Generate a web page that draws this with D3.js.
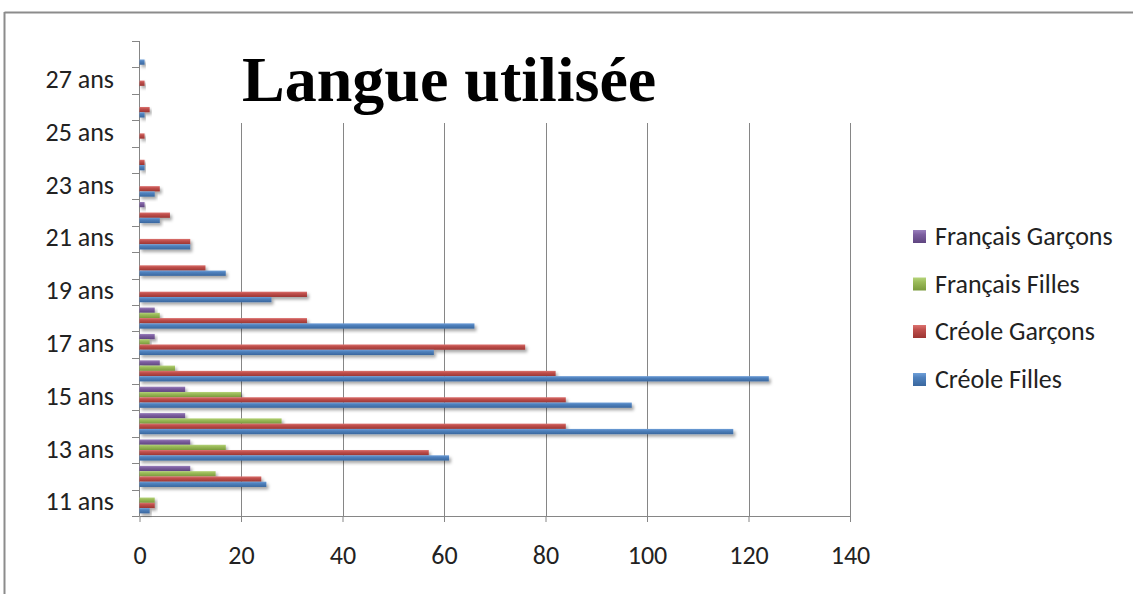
<!DOCTYPE html>
<html>
<head>
<meta charset="utf-8">
<script src="https://cdn.jsdelivr.net/npm/d3@7/dist/d3.min.js"></script>
<style>
  html, body { margin: 0; padding: 0; background: #fff; }
  svg { display: block; }
</style>
</head>
<body>
<svg id="chart" width="1133" height="594"></svg>
<script>
// ---------- DATA ----------
const categories = ["11 ans","12 ans","13 ans","14 ans","15 ans","16 ans","17 ans","18 ans","19 ans",
                    "20 ans","21 ans","22 ans","23 ans","24 ans","25 ans","26 ans","27 ans","28 ans"];
const yTickLabels = ["11 ans","13 ans","15 ans","17 ans","19 ans","21 ans","23 ans","25 ans","27 ans"];
const seriesNames = ["Français Garçons","Français Filles","Créole Garçons","Créole Filles"];
const francaisGarcons = [0,10,10,9,9,4,3,3,0,0,0,1,0,0,0,0,0,0];
const francaisFilles  = [3,15,17,28,20,7,2,4,0,0,0,0,0,0,0,0,0,0];
const creoleGarcons   = [3,24,57,84,84,82,76,33,33,13,10,6,4,1,1,2,1,0];
const creoleFilles    = [2,25,61,117,97,124,58,66,26,17,10,4,3,1,0,1,0,1];
const xTicks = [0,20,40,60,80,100,120,140];
const titleText = "Langue utilisée";

const seriesValues = [francaisGarcons, francaisFilles, creoleGarcons, creoleFilles];
const seriesColors = [
  {top:"#9a80bd", mid:"#7d5fa0", bot:"#5f4580"},
  {top:"#b5d47a", mid:"#9bbb59", bot:"#7a9a3c"},
  {top:"#dc7370", mid:"#c0504d", bot:"#9c3532"},
  {top:"#6f9fd8", mid:"#4f81bd", bot:"#3a679e"}
];

// ---------- LAYOUT ----------
const svg = d3.select("#chart");
const x0 = 139.5, x1 = 850, yTop = 41, yBot = 516, gridTop = 123;
const labelFont = "Carlito, Lato, 'Open Sans', sans-serif";
const labelSize = 26;

const defs = svg.append("defs");
const shadow = defs.append("filter").attr("id","shadow")
  .attr("x","-10%").attr("y","-50%").attr("width","130%").attr("height","250%");
shadow.append("feDropShadow").attr("dx",2).attr("dy",2.5).attr("stdDeviation",1.4)
  .attr("flood-color","#000").attr("flood-opacity",0.35);

seriesColors.forEach((c,i) => {
  const g = defs.append("linearGradient").attr("id","grad"+i)
    .attr("x1",0).attr("y1",0).attr("x2",0).attr("y2",1);
  g.append("stop").attr("offset","0%").attr("stop-color",c.top);
  g.append("stop").attr("offset","35%").attr("stop-color",c.mid);
  g.append("stop").attr("offset","100%").attr("stop-color",c.bot);
});

// outer border (top and left visible)
svg.append("line").attr("x1",4.5).attr("x2",1133).attr("y1",12.5).attr("y2",12.5)
  .attr("stroke","#8c8c8c").attr("stroke-width",2);
svg.append("line").attr("x1",4.5).attr("x2",4.5).attr("y1",12).attr("y2",594)
  .attr("stroke","#8c8c8c").attr("stroke-width",2);

const x = d3.scaleLinear().domain([0,140]).range([x0,x1]);
const y = d3.scaleBand().domain(categories).range([yBot,yTop]).paddingInner(0).paddingOuter(0);
const ySub = d3.scaleBand().domain(seriesNames).range([0,y.bandwidth()]).paddingInner(0).paddingOuter(0.5);

// gridlines
svg.append("g").selectAll("line").data(xTicks.filter(d => d > 0)).join("line")
  .attr("x1", d => Math.round(x(d)) + 0.5).attr("x2", d => Math.round(x(d)) + 0.5)
  .attr("y1", gridTop).attr("y2", yBot)
  .attr("stroke","#868686").attr("stroke-width",1);

// x axis
const xAxis = d3.axisBottom(x).tickValues(xTicks).tickSize(6).tickPadding(24).tickFormat(d3.format("d"));
const gx = svg.append("g").attr("transform",`translate(0,${yBot})`).call(xAxis);
gx.select(".domain").attr("stroke","#868686").attr("d",`M${x0},0.5H${x1}`);
gx.selectAll(".tick line").attr("stroke","#868686");
gx.selectAll(".tick text").attr("font-family",labelFont).attr("font-size",labelSize).attr("fill","#222");

// y axis: ticks at band boundaries
const boundaries = categories.map(c => y(c)).concat([yBot]);
svg.append("line").attr("x1",x0).attr("x2",x0).attr("y1",yTop).attr("y2",yBot)
  .attr("stroke","#868686");
svg.append("g").selectAll("line").data(boundaries).join("line")
  .attr("x1",132).attr("x2",x0).attr("y1",d => Math.round(d)+0.5).attr("y2",d => Math.round(d)+0.5)
  .attr("stroke","#868686");
svg.append("g").selectAll("text").data(yTickLabels).join("text")
  .attr("x",114).attr("y",d => y(d) + y.bandwidth()/2 - 1.5)
  .attr("text-anchor","end").attr("dominant-baseline","central")
  .attr("font-family",labelFont).attr("font-size",labelSize).attr("fill","#222")
  .text(d => d);

// bars
const barData = [];
categories.forEach((c,ci) => {
  seriesNames.forEach((s,si) => {
    const v = seriesValues[si][ci];
    if (v > 0) barData.push({cat:c, series:s, si, v});
  });
});
svg.append("g").selectAll("rect").data(barData).join("rect")
  .attr("x", x(0))
  .attr("y", d => y(d.cat) + ySub(d.series))
  .attr("width", d => x(d.v) - x(0))
  .attr("height", ySub.bandwidth())
  .attr("fill", d => `url(#grad${d.si})`)
  .attr("filter","url(#shadow)");

// title
svg.append("text").attr("x",242).attr("y",101)
  .attr("font-family","'Liberation Serif', 'Times New Roman', serif")
  .attr("font-weight","bold").attr("font-size",64).attr("fill","#000")
  .text(titleText);

// legend
const legendY = [236, 283.5, 331, 379];
const lg = svg.append("g").selectAll("g").data(seriesNames).join("g")
  .attr("transform",(d,i) => `translate(913,${legendY[i]})`);
lg.append("rect").attr("x",0).attr("y",-6).attr("width",13).attr("height",13)
  .attr("fill",(d,i) => `url(#grad${i})`);
lg.append("text").attr("x",22).attr("y",0).attr("dominant-baseline","central")
  .attr("font-family",labelFont).attr("font-size",labelSize).attr("fill","#222")
  .text(d => d);
</script>
</body>
</html>
